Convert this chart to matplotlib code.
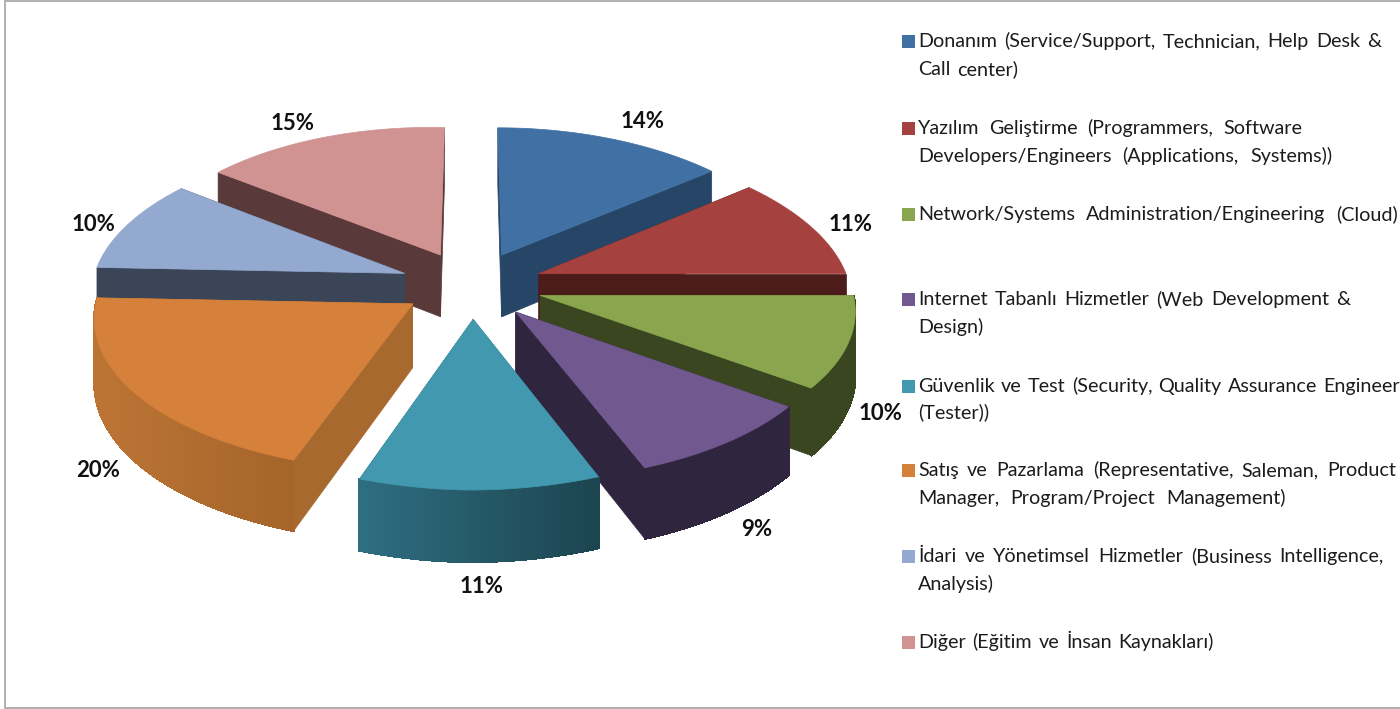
import matplotlib
matplotlib.use('Agg')
import matplotlib.pyplot as plt
import numpy as np

plt.rcParams['font.family'] = ['Lato', 'DejaVu Sans']

percents = [14, 11, 10, 9, 11, 20, 10, 15]
legend_lines = [
    ['Donanım (Service/Support,  Technician, Help Desk &', 'Call center)'],
    ['Yazılım Geliştirme (Programmers, Software', 'Developers/Engineers (Applications, Systems))'],
    ['Network/Systems Administration/Engineering (Cloud)'],
    ['Internet Tabanlı Hizmetler (Web Development &', 'Design)'],
    ['Güvenlik ve Test (Security, Quality Assurance Engineer', '(Tester))'],
    ['Satış ve Pazarlama (Representative, Saleman, Product', 'Manager, Program/Project Management)'],
    ['İdari ve Yönetimsel Hizmetler (Business Intelligence,', 'Analysis)'],
    ['Diğer (Eğitim ve İnsan Kaynakları)'],
]

# colours per slice
top_colors = ['#4170a5', '#a5423f', '#89a54e', '#71588f', '#4198af', '#d5813b', '#93a9cf', '#d19392']
wall_colors = ['#274566', '#4b1c1a', '#3a4620', '#30253f', '#2c6070', '#a8692e', '#3a4558', '#59393a']
side_left = ['#274566', '#4b1c1a', '#3a4620', '#30253f', '#2f6e82', '#bc7434', '#3a4558', '#59393a']
side_right = ['#274566', '#4b1c1a', '#3a4620', '#30253f', '#1c454f', '#a5652b', '#3a4558', '#59393a']

# where the % label sits relative to the middle of the slice rim
label_nudge = [(31, -17), (40, -2), (32, 71), (30, 87), (2, 97), (-36, 78), (-34, 0), (-30, -14)]

legend_y = [(47, 75), (134, 162), (220,), (305, 333), (392, 418), (476, 504), (562, 590), (648,)]
legend_end = [(1381, 1018), (1302, 1332), (1398,), (1350, 984), (1400, 990), (1396, 1286), (1384, 995), (1214,)]

cx, cy = 472, 285
rx, ry = 311, 146
tilt = 0.101
tilt_back = 0.15
explode = 0.23
depth = 63


def project(theta, r, mid, drop=False):
    # theta clockwise from the back of the pie, in radians
    u = r * np.sin(theta) + explode * np.sin(mid)
    v = r * np.cos(theta) + explode * np.cos(mid)
    w = 1 + tilt * v
    # the back half narrows faster, the front leans a bit to the left
    wx = 1 + (tilt_back if v > 0 else tilt) * v
    x = cx + rx * u / wx + 5 * min(v, 0)
    y = cy - ry * v / w - 6 * max(-u, 0)
    if drop:
        y = y + depth / w
    return x, y


fig = plt.figure(figsize=(14, 7.09), dpi=100)
ax = fig.add_axes([0, 0, 1, 1])
ax.set_xlim(0, 1400)
ax.set_ylim(709, 0)
ax.axis('off')

shares = np.array(percents) / sum(percents) * 2 * np.pi
ends = np.cumsum(shares)
starts = ends - shares
mids = (starts + ends) / 2


def quad(a, b, mid, r_a=1, r_b=1):
    pts = [project(a, r_a, mid), project(b, r_b, mid),
           project(b, r_b, mid, True), project(a, r_a, mid, True)]
    return pts


# paint back to front
for i in np.argsort(-np.cos(mids)):
    t0, t1, mid = starts[i], ends[i], mids[i]

    # radial walls, the one further back first
    walls = sorted([t0, t1], key=lambda t: -np.cos(t))
    for t in walls:
        ax.fill(*zip(*quad(t, t, mid, 0, 1)), color=wall_colors[i], lw=0.5)

    # rim, only the part that faces the viewer
    thetas = np.linspace(t0, t1, 41)
    c_left = np.array(matplotlib.colors.to_rgb(side_left[i]))
    c_right = np.array(matplotlib.colors.to_rgb(side_right[i]))
    for a, b in zip(thetas[:-1], thetas[1:]):
        if np.cos((a + b) / 2) > 0.0:
            continue
        x_pos = project(a, 1, mid)[0]
        x0, x1 = project(t0, 1, mid)[0], project(t1, 1, mid)[0]
        # gradient runs left to right on screen
        f = (x_pos - min(x0, x1)) / max(abs(x1 - x0), 1)
        col = c_left + (c_right - c_left) * np.clip(f, 0, 1)
        ax.fill(*zip(*quad(a, b, mid)), color=col, lw=1.0, antialiased=False)

    # top face
    arc = [project(t, 1, mid) for t in np.linspace(t0, t1, 60)]
    outline = [project(t0, 0, mid)] + arc
    ax.fill(*zip(*outline), color=top_colors[i], lw=0.5)

    lx, ly = project(mid, 1, mid)
    ax.text(lx + label_nudge[i][0], ly + label_nudge[i][1], f'{percents[i]}%',
            fontsize=16, fontweight='bold', color='#111111', ha='center', va='center')

# legend, words spread out to reach the line end like the justified original
renderer = fig.canvas.get_renderer()


def put_line(line, x_start, x_end, y):
    words = line.split()
    pieces = []
    total = 0
    for word in words:
        t = ax.text(0, y, word, fontsize=14.2, color='#1c1c1c', va='baseline', ha='left')
        pieces.append(t)
        total += t.get_window_extent(renderer).width
    gap = (x_end - x_start - total) / max(len(words) - 1, 1)
    x = x_start
    for t in pieces:
        t.set_x(x)
        x += t.get_window_extent(renderer).width + gap


for i, lines in enumerate(legend_lines):
    y0 = legend_y[i][0] - 6
    ax.add_patch(plt.Rectangle((902, y0 - 6.5), 13, 13, color=top_colors[i], lw=0))
    for line, y, x_end in zip(lines, legend_y[i], legend_end[i]):
        put_line(line, 918, x_end, y)

# thin frame round the picture
ax.plot([1400, 5, 5, 1400], [1, 1, 708, 708], color='#b0b0b0', lw=1.4, solid_joinstyle='miter')

plt.savefig('out.png', dpi=100)
